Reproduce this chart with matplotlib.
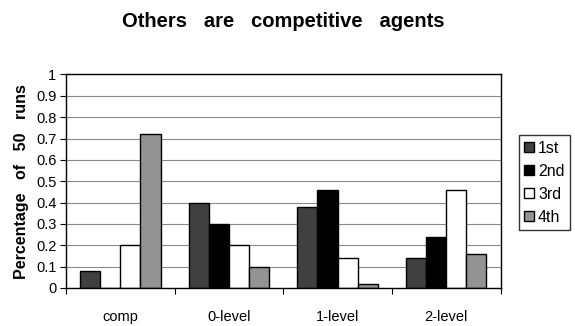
"""Bar chart: Others are competitive agents."""

import matplotlib
import matplotlib.pyplot as plt
import numpy as np

matplotlib.use("agg")

categories = ["comp", "0-level", "1-level", "2-level"]
series = ["1st", "2nd", "3rd", "4th"]
first = [0.08, 0.40, 0.38, 0.14]
second = [0.00, 0.30, 0.46, 0.24]
third = [0.20, 0.20, 0.14, 0.46]
fourth = [0.72, 0.10, 0.02, 0.16]
y_ticks = [0, 0.1, 0.2, 0.3, 0.4, 0.5, 0.6, 0.7, 0.8, 0.9, 1]
y_tick_labels = ["0", "0.1", "0.2", "0.3", "0.4", "0.5", "0.6", "0.7", "0.8", "0.9", "1"]

colors = ["#404040", "#000000", "#ffffff", "#939393"]

plt.rcParams["font.family"] = ["Liberation Sans", "DejaVu Sans"]

fig = plt.figure(figsize=(5.75, 3.26), dpi=100)
ax = fig.add_axes([0.1148, 0.1166, 0.7557, 0.655])

# Grid behind the bars
ax.grid(which="major", axis="y", color="#8a8a8a", linewidth=0.8, zorder=1)

x = np.arange(len(categories))
width = 0.185
values = [first, second, third, fourth]
for i, (name, vals) in enumerate(zip(series, values)):
    ax.bar(
        x + (i - 1.5) * width,
        vals,
        width,
        color=colors[i],
        edgecolor="black",
        linewidth=1.0,
        label=name,
        zorder=2,
    )

ax.set_xlim(-0.5, len(categories) - 0.5)
ax.set_ylim(0, 1)
ax.set_yticks(y_ticks)
ax.set_yticklabels(y_tick_labels)

# Category labels in the middle, tick marks on the boundaries
ax.set_xticks(x)
ax.set_xticklabels(categories)
ax.set_xticks(np.arange(len(categories) + 1) - 0.5, minor=True)
ax.xaxis.set_tick_params(which="major", length=0, pad=16, labelsize=10.5)
ax.xaxis.set_tick_params(which="minor", length=4, width=0.8, direction="out")
ax.yaxis.set_tick_params(length=4, width=0.8, labelsize=10.5, pad=3)

for side in ["top", "right", "bottom", "left"]:
    ax.spines[side].set_linewidth(1.0)
    ax.spines[side].set_color("black")

ax.set_ylabel("Percentage   of   50   runs", fontsize=11.5, fontweight="bold", labelpad=5)

fig.text(0.492, 0.935, "Others   are   competitive   agents",
         ha="center", va="center", fontsize=14.5, fontweight="bold")

fig.legend(
    loc="center",
    bbox_to_anchor=(0.947, 0.44),
    frameon=True,
    fancybox=False,
    edgecolor="black",
    fontsize=11.5,
    handlelength=0.6,
    handleheight=0.6,
    handletextpad=0.25,
    labelspacing=0.5,
    borderpad=0.35,
    borderaxespad=0,
)

plt.savefig("out.png", dpi=100, facecolor="white")
